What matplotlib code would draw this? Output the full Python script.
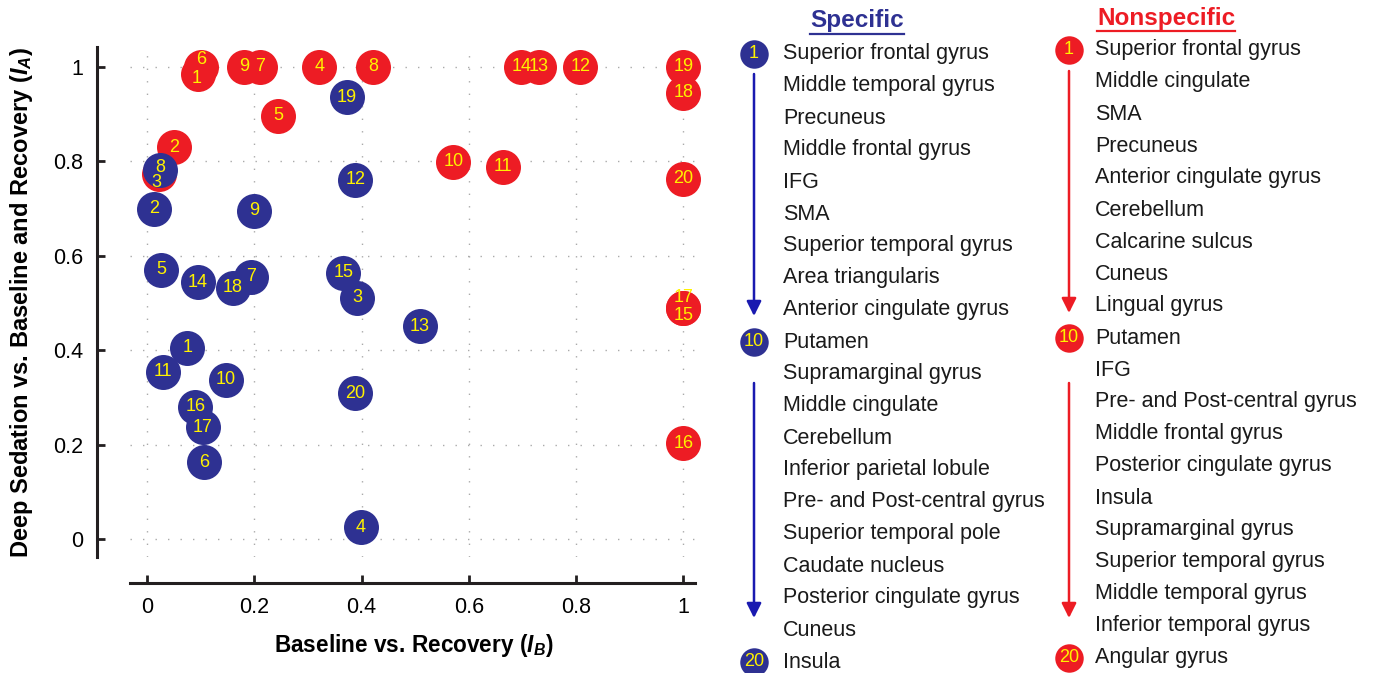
import numpy as np
import matplotlib
matplotlib.use("Agg")
import matplotlib.pyplot as plt

plt.rcParams["font.family"] = ["Liberation Sans", "DejaVu Sans"]
plt.rcParams["mathtext.fontset"] = "custom"
plt.rcParams["mathtext.rm"] = "Liberation Sans:bold"
plt.rcParams["mathtext.it"] = "Liberation Sans:bold:italic"

# 数据：各脑区编号 1-20 的 (I_B, I_A)
spec_x = [0.075, 0.013, 0.392, 0.399, 0.026, 0.106, 0.194, 0.024, 0.200, 0.147,
          0.030, 0.388, 0.509, 0.095, 0.366, 0.090, 0.104, 0.160, 0.373, 0.388]
spec_y = [0.405, 0.699, 0.511, 0.025, 0.570, 0.163, 0.555, 0.782, 0.695, 0.337,
          0.354, 0.761, 0.451, 0.544, 0.564, 0.280, 0.237, 0.532, 0.936, 0.309]
nons_x = [0.095, 0.050, 0.022, 0.321, 0.244, 0.100, 0.211, 0.421, 0.181, 0.571,
          0.664, 0.808, 0.731, 0.698, 1.000, 1.000, 1.000, 1.000, 1.000, 1.000]
nons_y = [0.985, 0.830, 0.773, 1.000, 0.896, 1.000, 1.000, 1.000, 1.000, 0.799,
          0.788, 1.000, 1.000, 1.000, 0.490, 0.203, 0.490, 0.945, 1.000, 0.763]

spec_names = ["Superior frontal gyrus", "Middle temporal gyrus", "Precuneus",
              "Middle frontal gyrus", "IFG", "SMA", "Superior temporal gyrus",
              "Area triangularis", "Anterior cingulate gyrus", "Putamen",
              "Supramarginal gyrus", "Middle cingulate", "Cerebellum",
              "Inferior parietal lobule", "Pre- and Post-central gyrus",
              "Superior temporal pole", "Caudate nucleus",
              "Posterior cingulate gyrus", "Cuneus", "Insula"]
nons_names = ["Superior frontal gyrus", "Middle cingulate", "SMA", "Precuneus",
              "Anterior cingulate gyrus", "Cerebellum", "Calcarine sulcus",
              "Cuneus", "Lingual gyrus", "Putamen", "IFG",
              "Pre- and Post-central gyrus", "Middle frontal gyrus",
              "Posterior cingulate gyrus", "Insula", "Supramarginal gyrus",
              "Superior temporal gyrus", "Middle temporal gyrus",
              "Inferior temporal gyrus", "Angular gyrus"]

ticks = [0, 0.2, 0.4, 0.6, 0.8, 1]
tick_labels = ["0", "0.2", "0.4", "0.6", "0.8", "1"]

BLUE = "#2E3192"
RED = "#ED1C24"
YEL = "#FFF200"

# 重叠点的标签偏移 (pt)
nons_off = {1: (-1, -3), 6: (0, 5), 3: (-2, -6), 17: (0, 7), 15: (0, -6)}
spec_off = {8: (0, 2)}

fig = plt.figure(figsize=(13.74, 6.73), dpi=100)
ax = fig.add_axes([130 / 1374, 1 - 557 / 673, 565 / 1374, 510 / 673])

ax.scatter(nons_x, nons_y, s=635, color=RED, lw=0, zorder=3, clip_on=False)
ax.scatter(spec_x, spec_y, s=635, color=BLUE, lw=0, zorder=4, clip_on=False)
for i in range(20):
    n = i + 1
    dx, dy = nons_off.get(n, (0, 0))
    ax.annotate(str(n), (nons_x[i], nons_y[i]), xytext=(dx, dy),
                textcoords="offset points", ha="center", va="center",
                color=YEL, fontsize=13, zorder=5)
    dx, dy = spec_off.get(n, (0, 0))
    ax.annotate(str(n), (spec_x[i], spec_y[i]), xytext=(dx, dy),
                textcoords="offset points", ha="center", va="center",
                color=YEL, fontsize=13, zorder=5)

ax.set_xlim(-0.032, 1.022)
ax.set_ylim(-0.038, 1.042)
ax.set_xticks(ticks)
ax.set_xticklabels(tick_labels)
ax.set_yticks(ticks)
ax.set_yticklabels(tick_labels)
ax.grid(True, color="#AAAAAA", linestyle=(0, (1, 8)), lw=1)
ax.set_axisbelow(True)
for s in ["top", "right"]:
    ax.spines[s].set_visible(False)
ax.spines["left"].set_position(("outward", 24))
ax.spines["bottom"].set_position(("outward", 19))
for s in ["left", "bottom"]:
    ax.spines[s].set_linewidth(2.2)
    ax.spines[s].set_color("#231F20")
ax.tick_params(direction="in", length=6, width=2, color="#231F20",
               labelsize=15.5, pad=10)

ax.set_xlabel(r"Baseline vs. Recovery ($I_B$)", fontsize=16.3, fontweight="bold")
ax.set_ylabel(r"Deep Sedation vs. Baseline and Recovery ($I_A$)", fontsize=17,
              fontweight="bold")
ax.xaxis.set_label_coords(0.503, -0.148)
ax.yaxis.set_label_coords(-0.168, 0.5)

# 右侧图例（像素坐标）
lax = fig.add_axes([0, 0, 1, 1])
lax.set_xlim(0, 1374)
lax.set_ylim(673, 0)
lax.axis("off")

cols = [
    dict(names=spec_names, color=BLUE, acolor="#1A1AB0", title="Specific",
         tx=857, ty=21, mx=754, x=783, y0=54, arrows=[(74, 316), (383, 618)]),
    dict(names=nons_names, color=RED, acolor=RED, title="Nonspecific",
         tx=1166, ty=18, mx=1069, x=1095, y0=50, arrows=[(71, 313), (383, 618)]),
]
heads = []
for c in cols:
    t = lax.text(c["tx"], c["ty"], c["title"], ha="center", va="center",
                 fontsize=17.5, fontweight="bold", color=c["color"])
    heads.append((t, c["color"]))
    for i, name in enumerate(c["names"]):
        yy = c["y0"] + 32 * i
        lax.text(c["x"], yy, name, ha="left", va="center", fontsize=15.5,
                 color="#1A1A1A")
        if i + 1 in (1, 10, 20):
            lax.scatter([c["mx"]], [yy], s=420, color=c["color"], lw=0)
            lax.text(c["mx"], yy, str(i + 1), ha="center", va="center",
                     color=YEL, fontsize=13)
    for a, b in c["arrows"]:
        lax.annotate("", xy=(c["mx"], b), xytext=(c["mx"], a),
                     arrowprops=dict(arrowstyle="-|>", color=c["acolor"], lw=1.8,
                                     mutation_scale=22, shrinkA=0, shrinkB=0))

# 标题下划线
fig.canvas.draw()
r = fig.canvas.get_renderer()
for t, col in heads:
    bb = t.get_window_extent(r)
    yline = 673 - bb.y0 + 1
    lax.plot([bb.x0, bb.x1], [yline, yline], color=col, lw=1.6)

fig.savefig("out.png", dpi=100)
